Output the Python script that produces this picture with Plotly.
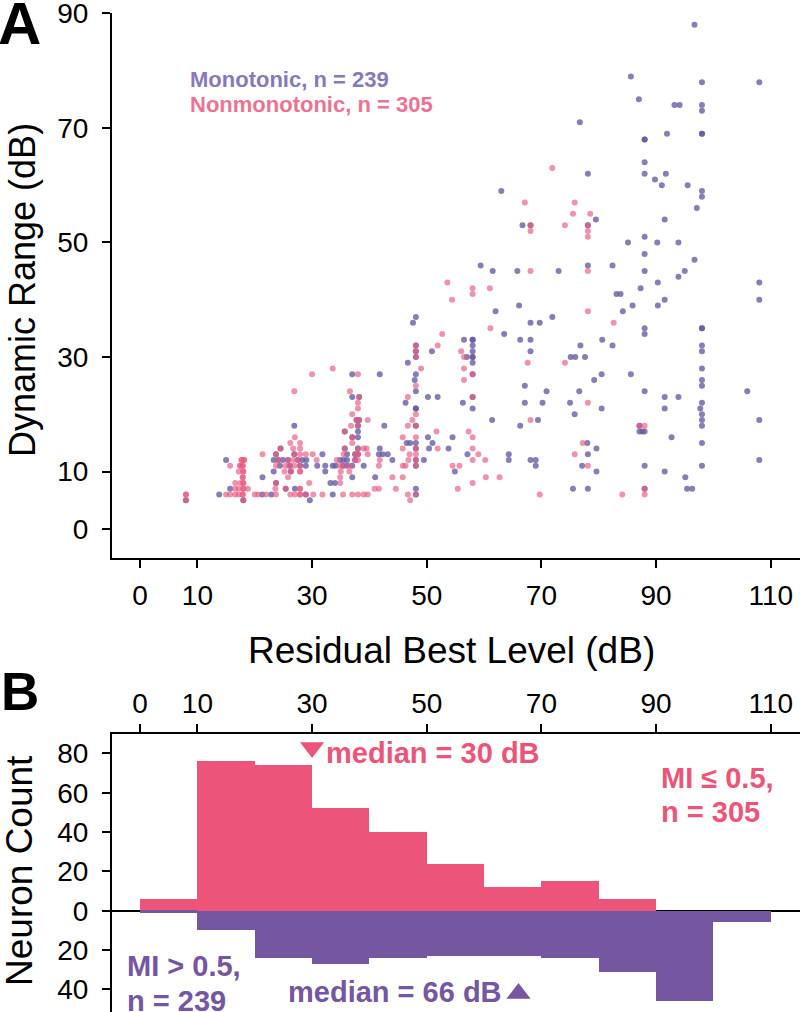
import plotly.graph_objects as go

W, H = 800, 1012

# ---------------- Panel A data (Residual Best Level dB, Dynamic Range dB) ----------------
mono_pts = [
    (96.7, 88), (85.6, 79), (98, 78), (108, 78), (87, 75), (93.2, 74), (94.1, 74), (98, 74), (98, 73),
    (91.9, 69), (98, 69), (98, 69), (88, 68), (88, 68), (88, 64), (88, 62), (91.7, 62), (89.8, 61),
    (91, 60), (95.5, 60), (98, 59), (98, 58), (97.1, 56), (91.5, 54), (88, 51), (85.1, 50), (90.2, 50),
    (93.9, 50), (88, 48), (82.4, 46), (96.7, 47), (88, 45), (95, 45), (93.9, 44), (90.3, 43), (108, 43),
    (87.3, 42), (83.1, 41), (83.8, 41), (91.5, 40), (108, 40), (85.9, 39), (90.3, 39), (84.2, 38),
    (88, 35), (88, 34), (98, 35), (98, 35), (80.6, 33), (82.4, 32), (98, 32), (98, 31), (98, 28),
    (80.5, 27), (85.6, 27), (98, 26), (98, 25), (105.9, 24), (88, 24), (91.5, 23), (93.9, 23), (98, 22),
    (80.5, 21), (91.5, 21), (97.7, 21), (98, 20), (98, 19), (108, 19), (98, 18), (87.1, 17), (87.6, 17),
    (88, 17), (92.7, 16), (98, 15), (108, 12), (88, 11), (98, 11), (91.5, 10), (95.1, 9), (95.4, 7),
    (96.3, 7),
    (76.7, 71), (78.1, 62), (63, 59), (79.5, 54), (66.7, 53), (59.4, 46), (61.5, 45), (65.8, 45), (73, 45),
    (78.1, 46), (66.1, 39), (62, 38), (68.1, 36), (69.7, 36), (71.9, 37), (63.5, 34), (56.5, 33), (58, 33),
    (58, 33), (58, 32), (58, 31), (58, 30), (58, 30), (58, 29), (66.3, 33), (68.1, 33), (68.1, 31),
    (76.8, 32), (57, 30), (75.1, 30), (75.9, 30), (77.6, 30), (58, 21), (56.3, 22), (79.2, 26), (67.1, 25),
    (70.9, 24), (76.6, 24), (67.1, 22), (70.2, 22), (75, 22), (75.8, 20), (61.4, 19), (66.3, 18),
    (69.4, 19), (54.5, 16), (53.8, 14), (57.1, 13), (64.3, 13), (64.3, 12), (68.1, 12), (69, 12), (69, 11),
    (54.9, 10), (75.5, 7), (78.1, 7), (78, 15), (78.1, 13), (79.6, 14), (77.1, 11), (79.6, 10),
    (48.1, 37), (47.6, 36), (46.7, 29), (50.9, 31), (48.1, 27), (47.9, 26), (48.1, 24), (50.2, 23),
    (51.9, 23), (46.3, 22), (48.1, 21), (48.1, 21), (50.2, 16), (46.5, 15), (47.1, 15), (48.1, 15),
    (51, 15), (50.4, 14), (49.5, 12), (48.1, 7),
    (37, 27), (41.8, 27), (37, 23), (42.6, 18), (38, 17), (38, 16), (41.8, 14), (31.8, 13), (36.1, 13),
    (41.65, 13), (42.3, 13), (43.2, 13), (34.9, 12), (35.5, 12), (36.1, 12), (44, 12), (30.9, 11),
    (32.3, 11), (33.6, 11), (34.1, 11), (36.1, 11), (37, 11), (39, 11), (32.3, 10), (37, 9), (41, 9),
    (33.2, 8), (34, 8), (33.6, 6), (29.6, 5),
    (26.9, 18), (15, 12), (23.3, 12), (24.9, 12), (28.3, 12), (29, 12), (24.4, 11), (28.9, 11), (23.3, 10),
    (21.35, 9), (15.7, 7), (27, 7), (13.8, 6), (21.3, 6), (22.9, 6),
]

# positions where a monotonic and a nonmonotonic unit coincide
shared_pts = [
    (87.1, 18), (88, 7), (68.1, 53), (78.1, 53), (58, 27), (58, 23),
    (48.1, 32), (48.1, 31), (48.1, 30), (48.1, 18), (48.1, 14), (48.1, 12), (48.1, 11), (48.1, 6),
    (38.2, 23), (37.75, 19), (38.2, 19), (38, 18), (35.7, 17), (37, 16), (35.7, 14), (38, 14),
    (37.5, 13), (38, 13), (37.5, 12), (35.4, 11),
    (24.5, 14), (23.7, 13), (26.9, 13), (24.1, 12), (25.8, 12), (27.5, 12), (26.1, 11), (27.9, 11),
    (26.3, 10), (23.7, 8), (25.4, 7), (28.9, 6), (8, 5), (18, 5),
]

nonmono_pts = [
    (82.6, 36), (88, 18), (84.1, 6), (88, 6),
    (71.9, 63), (67.1, 57), (75.8, 57), (75.5, 55), (78.5, 55), (68.1, 52), (74.1, 53), (78.1, 52),
    (78.1, 51), (68.1, 45), (78.1, 45), (53.6, 43), (58, 42), (58, 41), (61, 42), (54.4, 40), (78.1, 38),
    (61.1, 35), (52.7, 34), (56, 31), (56.5, 30), (67.6, 29), (74.1, 29), (56.5, 28), (56.5, 26),
    (78.1, 22), (68.1, 19), (57.3, 17), (58, 16), (58, 14), (59, 13), (58, 12), (60.2, 12), (54.5, 11),
    (55.7, 11), (60.3, 9), (62.7, 9), (58, 8), (55.4, 7), (69.7, 6), (77.2, 15), (75.8, 13), (78.1, 11),
    (51.9, 32), (49, 28), (48.1, 25), (46.7, 23), (48.1, 20), (47.5, 19), (46.7, 18), (51.7, 17),
    (45.8, 16), (48.1, 16), (45.8, 14), (51.9, 14), (47, 13), (48.1, 13), (46.8, 12), (45.8, 11),
    (46.3, 11), (45.8, 9), (46.7, 6), (47.1, 5),
    (33.6, 28), (30, 27), (38, 27), (36.6, 24), (38, 22), (38, 21), (37, 20), (39.7, 19), (36.8, 18),
    (37, 15), (39, 14), (39.5, 14), (30.1, 13), (35.5, 13), (39.7, 13), (30.8, 12), (34.3, 12), (38, 12),
    (41.8, 12), (34.9, 11), (36.6, 11), (41.65, 11), (35, 10), (36.5, 10), (34.9, 9), (44, 9), (29.5, 8),
    (34.9, 8), (40.9, 7), (41.65, 7), (44.6, 7), (30.2, 6), (31.8, 6), (35.4, 6), (37, 6), (38, 6),
    (39, 6), (39.7, 6),
    (26.9, 24), (27, 16), (26.2, 15), (27.9, 15), (26.7, 14), (27.9, 14), (21.35, 13), (27.9, 13),
    (28.9, 13), (26.7, 12), (15.7, 11), (23.7, 11), (25.4, 11), (26.9, 11), (17.2, 10), (25.2, 10),
    (25.8, 9), (16.6, 8), (17.5, 8), (16.6, 7), (17.2, 7), (18.8, 7), (23.6, 7), (15, 6), (15.7, 6),
    (16.6, 6), (17.2, 6), (20, 6), (20.6, 6), (22, 6), (23.7, 6), (26.2, 6), (27, 6),
    (17.7, 12), (17.7, 12), (18.15, 12), (18.15, 12), (17.45, 11), (17.45, 11), (17.9, 11), (17.9, 11),
    (18, 10), (18, 10), (27.9, 10), (27.9, 10), (17.9, 9), (17.9, 9), (18, 8), (18, 8), (18, 7), (18, 7),
    (27.9, 7), (27.9, 7), (8, 6), (8, 6), (17.9, 6), (17.9, 6), (27.9, 6), (27.9, 6),
]

n_mono = 239
n_nonmono = 305

# ---------------- Panel B data (histogram, 10 dB bins) ----------------
bin_left = [0, 10, 20, 30, 40, 50, 60, 70, 80, 90, 100]
nonmono_counts = [6, 76, 74, 52, 40, 24, 12, 15, 6, 0, 0]
mono_counts = [1, 10, 24, 27, 24, 23, 23, 24, 31, 46, 6]
median_nonmono = 30
median_mono = 66

x_ticks = [0, 10, 30, 50, 70, 90, 110]
yA_ticks = [0, 10, 30, 50, 70, 90]
yB_ticks = [-40, -20, 0, 20, 40, 60, 80]

# ---------------- style ----------------
FONT = "Liberation Sans, Arial, Helvetica, sans-serif"
PURPLE_DOT = "rgba(100,90,162,0.78)"
PINK_DOT = "rgba(230,90,128,0.66)"
PURPLE_TXT = "#8779BC"
PINK_TXT = "#EC7390"
BAR_PINK = "#EC5479"
BAR_PURPLE = "#7556A0"

def P(px, py):
    return px / W, 1 - py / H

mono_all = mono_pts + shared_pts
nonmono_all = nonmono_pts + shared_pts

fig = go.Figure()

fig.add_trace(go.Scatter(
    x=[p[0] for p in mono_all], y=[p[1] for p in mono_all], mode="markers",
    marker=dict(size=6, color=PURPLE_DOT, line=dict(width=0)), xaxis="x", yaxis="y",
    name="Monotonic"))
fig.add_trace(go.Scatter(
    x=[p[0] for p in nonmono_all], y=[p[1] for p in nonmono_all], mode="markers",
    marker=dict(size=6, color=PINK_DOT, line=dict(width=0)), xaxis="x", yaxis="y",
    name="Nonmonotonic"))

centers = [b + 5 for b in bin_left]
fig.add_trace(go.Bar(x=centers, y=nonmono_counts, width=10, marker=dict(color=BAR_PINK, line=dict(width=0)),
                     xaxis="x2", yaxis="y2"))
fig.add_trace(go.Bar(x=centers, y=[-c for c in mono_counts], width=10,
                     marker=dict(color=BAR_PURPLE, line=dict(width=0)), xaxis="x2", yaxis="y2"))

# median markers
tri_size = 21
fig.add_trace(go.Scatter(x=[median_nonmono], y=[83.0], mode="markers",
                         marker=dict(symbol="triangle-down", size=tri_size, color=BAR_PINK, line=dict(width=0)),
                         xaxis="x2", yaxis="y2"))
fig.add_trace(go.Scatter(x=[median_mono], y=[-42.2], mode="markers",
                         marker=dict(symbol="triangle-up", size=tri_size, color=BAR_PURPLE, line=dict(width=0)),
                         xaxis="x2", yaxis="y2"))

xr = [-4.9, 115.1]
axis_common = dict(showline=True, linecolor="black", linewidth=2, ticks="outside", ticklen=8, tickwidth=2,
                   tickcolor="black", showgrid=False, zeroline=False, automargin=False,
                   ticklabeloverflow="allow", tickfont=dict(size=28, color="black"))

fig.update_layout(
    width=W, height=H, margin=dict(l=0, r=0, t=0, b=0, pad=0, autoexpand=False),
    plot_bgcolor="white", paper_bgcolor="white", showlegend=False, barmode="overlay", bargap=0,
    font=dict(family=FONT, color="black"),
    xaxis=dict(domain=[112 / W, 1], range=xr, anchor="y", tickvals=x_ticks, ticklabelstandoff=3, **axis_common),
    yaxis=dict(domain=[1 - 558 / H, 1 - 13.3 / H], range=[-5.1, 90.02], anchor="x", tickvals=yA_ticks,
               ticklabelstandoff=8, **axis_common),
    xaxis2=dict(domain=[112 / W, 1], range=xr, anchor="y2", side="top", tickvals=x_ticks,
                ticklabelstandoff=0, **axis_common),
    yaxis2=dict(domain=[0, 1 - 734 / H], range=[-51.55, 89.9], anchor="x2", tickvals=yB_ticks,
                ticktext=[str(abs(v)) for v in yB_ticks], ticklabelstandoff=8,
                **{**axis_common, "zeroline": True}, zerolinecolor="black", zerolinewidth=1.5),
)

ann = []
def add(text, px, py, size, color="black", xanchor="center", yanchor="middle", angle=0):
    x, y = P(px, py)
    ann.append(dict(text=text, x=x, y=y, xref="paper", yref="paper", xanchor=xanchor, yanchor=yanchor,
                    showarrow=False, textangle=angle, font=dict(size=size, color=color, family=FONT)))

add("<b>A</b>", -4, 24, 60, xanchor="left")
add("<b>B</b>", -1, 691, 53, xanchor="left")
add("Dynamic Range (dB)", 22, 290, 36, angle=-90)
add("Residual Best Level (dB)", 452, 650, 37)
add("Neuron Count", 19, 871, 37, angle=-90)
add(f"<b>Monotonic, n = {n_mono}</b>", 188, 79, 22, color=PURPLE_TXT, xanchor="left")
add(f"<b>Nonmonotonic, n = {n_nonmono}</b>", 188, 105, 22, color=PINK_TXT, xanchor="left")
add(f"<b>median = {median_nonmono} dB</b>", 324, 753, 29, color=BAR_PINK, xanchor="left")
add(f"<b>median = {median_mono} dB</b>", 504, 992, 29, color=BAR_PURPLE, xanchor="right")
add("<b>MI ≤ 0.5,</b>", 659, 778, 29, color=BAR_PINK, xanchor="left")
add(f"<b>n = {n_nonmono}</b>", 659, 812, 29, color=BAR_PINK, xanchor="left")
add("<b>MI &gt; 0.5,</b>", 125, 966, 29, color=BAR_PURPLE, xanchor="left")
add(f"<b>n = {n_mono}</b>", 125, 1001, 29, color=BAR_PURPLE, xanchor="left")
fig.update_layout(annotations=ann)

fig.write_html("out.html", config={"displayModeBar": False},
               post_script="document.body.style.margin='0px';document.body.style.overflow='hidden';")
